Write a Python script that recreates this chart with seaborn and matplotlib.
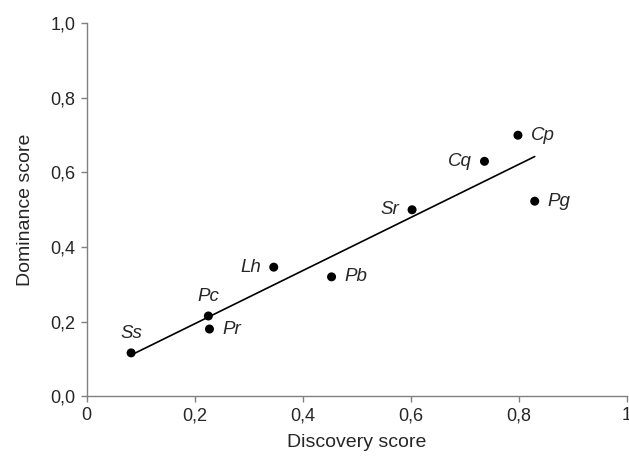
import pandas as pd
import numpy as np
import seaborn as sns
from matplotlib import pyplot as plt
from matplotlib.ticker import FuncFormatter

# species scores
species = ['Ss', 'Pc', 'Pr', 'Lh', 'Pb', 'Sr', 'Cq', 'Cp', 'Pg']
discovery = [0.082, 0.225, 0.227, 0.346, 0.453, 0.602, 0.736, 0.798, 0.829]
dominance = [0.116, 0.215, 0.180, 0.346, 0.320, 0.500, 0.630, 0.700, 0.523]

df = pd.DataFrame({'species': species, 'discovery': discovery, 'dominance': dominance})

sns.set_style('white')
plt.rcParams['font.family'] = ['Liberation Sans', 'DejaVu Sans']

fig = plt.figure(figsize=(6.29, 4.59), dpi=100)
ax = fig.add_axes([0.138, 0.137, 0.859, 0.812])

sns.regplot(data=df, x='discovery', y='dominance', ci=None, truncate=True, ax=ax,
            scatter_kws={'s': 42, 'color': 'black', 'alpha': 1, 'edgecolor': 'none', 'zorder': 3},
            line_kws={'color': 'black', 'linewidth': 1.2})

# where each label sits relative to its point
place = {'Ss': 'above', 'Pc': 'above', 'Pr': 'right', 'Lh': 'left', 'Pb': 'right',
         'Sr': 'left', 'Cq': 'left', 'Cp': 'right', 'Pg': 'right'}
offsets = {'above': ((0, 8), 'center', 'bottom'),
           'right': ((9, 0), 'left', 'center'),
           'left': ((-9, 0), 'right', 'center')}
for _, r in df.iterrows():
    off, ha, va = offsets[place[r['species']]]
    ax.annotate(r['species'], (r['discovery'], r['dominance']), xytext=off,
                textcoords='offset points', ha=ha, va=va, fontsize=13.5, style='italic')

ax.set_xlim(0, 1)
ax.set_ylim(0, 1)
ax.set_xticks(np.arange(0, 1.01, 0.2))
ax.set_yticks(np.arange(0, 1.01, 0.2))
ax.xaxis.set_major_formatter(FuncFormatter(lambda v, p: '0' if v == 0 else ('1' if abs(v - 1) < 1e-9 else f'{v:.1f}'.replace('.', ','))))
ax.yaxis.set_major_formatter(FuncFormatter(lambda v, p: f'{v:.1f}'.replace('.', ',')))
ax.set_xlabel('Discovery score', fontsize=14, labelpad=7)
ax.set_ylabel('Dominance score', fontsize=14, labelpad=12)

sns.despine(ax=ax)
for s in ['left', 'bottom']:
    ax.spines[s].set_color('#808080')
    ax.spines[s].set_linewidth(1)
ax.tick_params(direction='out', length=4, width=1, color='#808080', labelsize=13, pad=4,
               bottom=True, left=True)

plt.savefig('out.png', dpi=100)
